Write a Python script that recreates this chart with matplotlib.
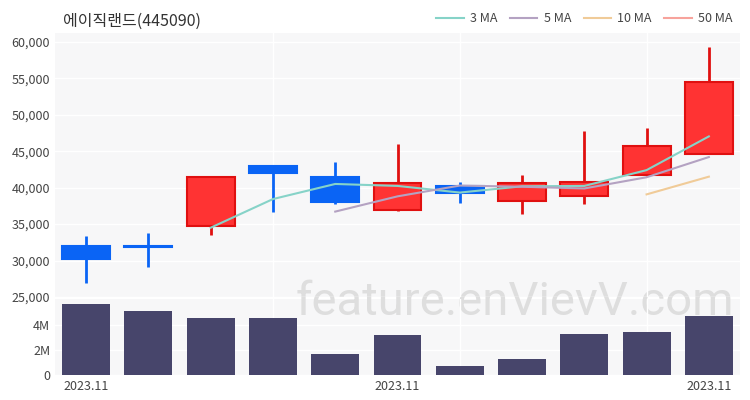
import numpy as np
import matplotlib
matplotlib.use("Agg")
import matplotlib.pyplot as plt
from matplotlib.patches import Rectangle

plt.rcParams['font.family'] = ['Noto Sans CJK KR', 'DejaVu Sans']

title = "에이직랜드(445090)"
opens = [32000, 31900, 34700, 43000, 41500, 36950, 40200, 38150, 38850, 41750, 44650]
highs = [33350, 33800, 41450, 43000, 43450, 45950, 40800, 41700, 47750, 48200, 59300]
lows = [26900, 29050, 33500, 36600, 37700, 36800, 37900, 36350, 37750, 41650, 44600]
closes = [30200, 31850, 41450, 42000, 38050, 40650, 39250, 40650, 40800, 45750, 54500]
volumes = [5.68e6, 5.14e6, 4.61e6, 4.56e6, 1.65e6, 3.23e6, 0.75e6, 1.31e6, 3.28e6, 3.44e6, 4.75e6]
ma3 = [np.nan, np.nan, 34500, 38430, 40500, 40230, 39320, 40180, 40230, 42400, 47020]
ma5 = [np.nan] * 4 + [36710, 38800, 40280, 40120, 39880, 41420, 44190]
ma10 = [np.nan] * 9 + [39070, 41500]
date_labels = ["2023.11", "2023.11", "2023.11"]
label_pos = [0, 5, 10]

up_color = "#ff3333"
up_edge = "#e01010"
down_color = "#0a64f5"
bg = "#f7f7f8"

fig = plt.figure(figsize=(7.5, 4), dpi=100)
price_box = [55 / 750, 1 - 297 / 400, 685 / 750, 264 / 400]
vol_box = [55 / 750, 1 - 375 / 400, 685 / 750, 76 / 400]
ax = fig.add_axes(price_box)
axv = fig.add_axes(vol_box, sharex=ax)

# panel backgrounds and watermark sit under the (transparent) axes
for b in (price_box, vol_box):
    fig.patches.append(Rectangle((b[0], b[1]), b[2], b[3], transform=fig.transFigure,
                                 facecolor=bg, edgecolor="none", zorder=-2))
fig.text(515 / 750, 1 - 315 / 400, "feature.enVievV.com", fontsize=34, color="#dedede",
         ha="center", va="baseline", family="Roboto", zorder=-1)

for a in (ax, axv):
    a.patch.set_visible(False)
    for s in a.spines.values():
        s.set_visible(False)
    a.tick_params(which="both", length=0, labelsize=9, colors="#444444")
    a.set_xticks([0, 3, 6, 9], minor=True)
    a.grid(True, which="minor", axis="x", color="white", lw=1)
    a.grid(True, which="major", axis="y", color="white", lw=1)

x = np.arange(len(closes))
w = 0.77
for i in x:
    o, h, l, c = opens[i], highs[i], lows[i], closes[i]
    if c >= o:
        fc, ec = up_color, up_edge
    else:
        fc, ec = down_color, down_color
    ax.vlines(i, l, h, color=ec, lw=2, zorder=3)
    bottom = min(o, c)
    height = max(abs(c - o), 120)
    ax.bar(i, height, bottom=bottom, width=w, color=fc, edgecolor=ec, lw=1.5, zorder=4)

ax.plot(x, ma3, color="#86d3c8", lw=1.5, label="3 MA", zorder=5)
ax.plot(x, ma5, color="#b4a2c2", lw=1.5, label="5 MA", zorder=5)
ax.plot(x, ma10, color="#f0cb98", lw=1.5, label="10 MA", zorder=5)
ax.plot([], [], color="#f7a39c", lw=1.5, label="50 MA")

ax.set_xlim(-0.5, 10.5)
ax.set_ylim(25000, 61200)
ax.set_yticks(range(25000, 60001, 5000))
ax.set_yticklabels([f"{v:,}" for v in range(25000, 60001, 5000)])
ax.tick_params(labelbottom=False)
ax.legend(loc="lower right", bbox_to_anchor=(1.0, 1.0), ncol=4, frameon=False,
          fontsize=9, handlelength=2.2, columnspacing=1.0, handletextpad=0.5,
          borderaxespad=0.2, labelcolor="#444444")

axv.bar(x, volumes, width=w, color="#47456b", zorder=3)
axv.set_ylim(0, 6.1e6)
axv.set_yticks([0, 2e6, 4e6])
axv.set_yticklabels(["0", "2M", "4M"])
axv.set_xticks(label_pos)
axv.set_xticklabels(date_labels)

fig.text(63 / 750, 1 - 21 / 400, title, fontsize=11.5, color="#333333", va="center")

fig.savefig("out.png", dpi=100)
